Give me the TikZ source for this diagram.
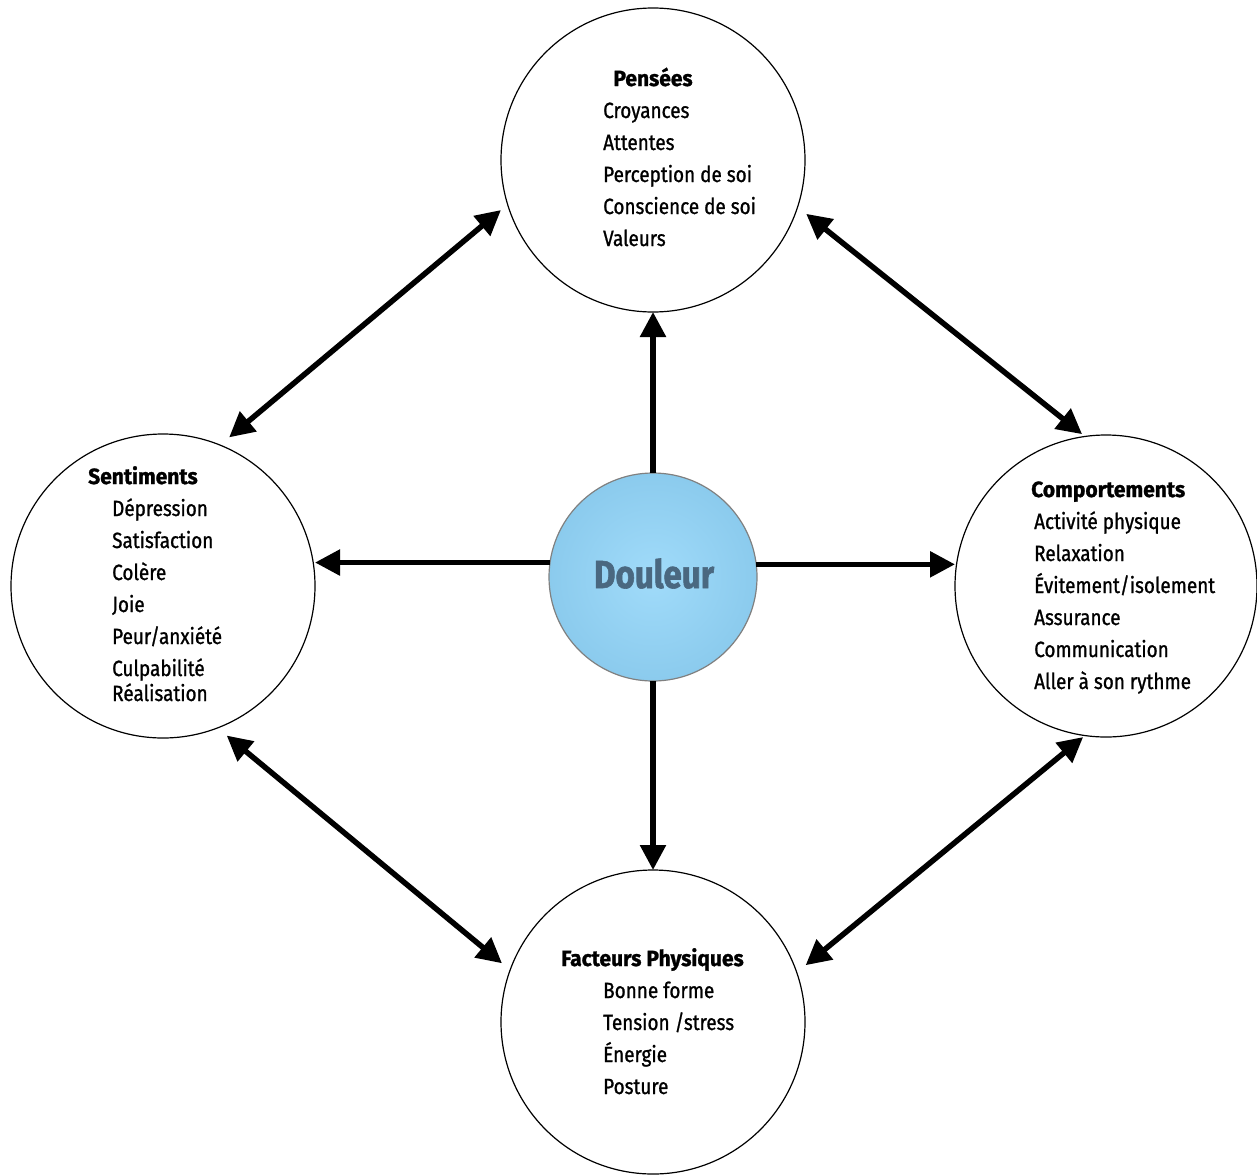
\documentclass[tikz,border=0pt]{standalone}
\usepackage{fontspec}
\usetikzlibrary{arrows.meta}
\newfontfamily\itemfont{Fira Sans}[FakeStretch=0.86, FakeBold=1]
\newfontfamily\headfont{Fira Sans}[FakeStretch=0.955, FakeBold=1.2]
\newfontfamily\doufont{Fira Sans}[FakeStretch=0.85, FakeBold=1.5]
\definecolor{douleurtext}{RGB}{74,104,128}
\definecolor{douleurborder}{RGB}{128,128,128}
\pgfdeclareradialshading{dshade}{\pgfpoint{0bp}{0bp}}{rgb(0bp)=(0.63,0.86,0.98); rgb(50bp)=(0.46,0.73,0.88); rgb(75bp)=(0.46,0.73,0.88)}
\tikzset{
  bigcircle/.style={circle, draw=black, line width=1.2pt, fill=white, minimum size=304pt, inner sep=0pt, outer sep=0pt},
  centercircle/.style={circle, draw=douleurborder, line width=1.2pt, shading=dshade, minimum size=208pt, inner sep=0pt, outer sep=0pt},
  item/.style={anchor=base west, inner sep=0pt, font=\itemfont\fontsize{22}{26}\selectfont},
  head/.style={inner sep=0pt, font=\headfont\bfseries\fontsize{22}{26}\selectfont},
  conn/.style={line width=5.5pt, {Triangle[length=25pt,width=25pt]}-{Triangle[length=25pt,width=25pt]}},
  oneway/.style={line width=5.5pt, -{Triangle[length=25pt,width=25pt]}}
}
\begin{document}
\begin{tikzpicture}[x=1pt,y=-1pt]
\useasboundingbox (0,0) rectangle (1257,1175);
% circles
\node[bigcircle] (P) at (653,160) {};
\node[bigcircle] (S) at (163,586) {};
\node[bigcircle, minimum size=302pt] (C) at (1106,586) {};
\node[bigcircle] (F) at (653,1022) {};
\node[centercircle] (D) at (653,577) {};
\node[anchor=base, inner sep=0pt, text=douleurtext, font=\doufont\bfseries\fontsize{39}{44}\selectfont] (dl) at (654,588) {Douleur};
% connectors
\draw[conn, shorten <=8.7pt, shorten >=12pt] (P.197.8) -- (S.68.6);
\draw[conn, shorten <=11pt, shorten >=3.7pt] (P.342.1) -- (C.98.5);
\draw[conn, shorten <=12pt, shorten >=10.6pt] (S.291.9) -- (F.160.2);
\draw[conn, shorten <=2.4pt, shorten >=11.5pt] (C.262.1) -- (F.19.7);
\draw[oneway] (D.north) -- (P.south);
\draw[oneway] (D.172.3) -- (D.172.3 -| S.east);
\draw[oneway] (D.7.7) -- (D.7.7 -| C.west);
\draw[oneway] (D.south) -- (F.north);
% Pensees
\node[head, anchor=base] (hp) at (653,86) {Pensées};
\foreach \t [count=\i from 0] in {Croyances,Attentes,Perception de soi,Conscience de soi,Valeurs}
  \node[item] (p\i) at (603,{118+32*\i}) {\t};
% Sentiments
\node[head, anchor=base west] (hs) at (88,484) {Sentiments};
\foreach \t [count=\i from 0] in {Dépression,Satisfaction,Colère,Joie,Peur/anxiété,Culpabilité}
  \node[item] (s\i) at (112,{516+32*\i}) {\t};
\node[item] (s6) at (112,701) {Réalisation};
% Comportements
\node[head, anchor=base west] (hc) at (1031,497) {Comportements};
\foreach \t [count=\i from 0] in {Activité physique,Relaxation,Évitement/isolement,Assurance,Communication,Aller à son rythme}
  \node[item] (c\i) at (1034,{529+32*\i}) {\t};
% Facteurs physiques
\node[head, anchor=base west] (hf) at (561,966) {Facteurs Physiques};
\foreach \t [count=\i from 0] in {Bonne forme,Tension /stress,Énergie,Posture}
  \node[item] (f\i) at (603,{998+32*\i}) {\t};
\end{tikzpicture}
\end{document}
